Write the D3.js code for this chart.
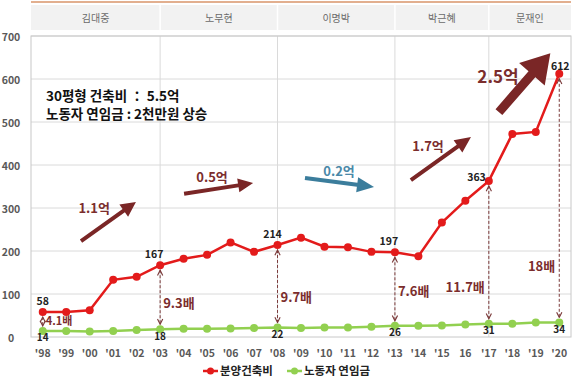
<!DOCTYPE html>
<html>
<head>
<meta charset="utf-8">
<script src="https://cdn.jsdelivr.net/npm/d3@7"></script>
<style>
  body { margin: 0; background: #fff; }
  svg { display: block; font-family: "Noto Sans CJK KR", "Noto Sans", sans-serif; }
</style>
</head>
<body>
<div id="chart"></div>
<script>
// data
var years = ["'98","'99","'00","'01","'02","'03","'04","'05","'06","'07","'08","'09","'10","'11","'12","'13","'14","'15","16","'17","'18","'19","'20"];
var buildCost = [58, 58, 62, 133, 140, 167, 182, 191, 220, 198, 214, 231, 210, 209, 198, 197, 188, 266, 317, 363, 472, 477, 612];
var wages = [14, 14, 13, 14, 16, 18, 19, 19, 20, 21, 22, 21, 22, 22, 24, 26, 26, 27, 29, 31, 31, 34, 34];
var seriesNames = ["분양건축비", "노동자 연임금"];
var yTicks = [0, 100, 200, 300, 400, 500, 600, 700];

var presidents = ["김대중", "노무현", "이명박", "박근혜", "문재인"];
var termBreaks = ["'03", "'08", "'13", "'17"];

// years with labelled values + ratio arrows
var markedYears = ["'98", "'03", "'08", "'13", "'17", "'20"];
var ratioLabels = ["4.1배", "9.3배", "9.7배", "7.6배", "11.7배", "18배"];
var ratioLabelAt = [37, 77, 91, 105, 116, 163];

// big arrows: text, tail (i, v), tip (i, v), label centre (i, v)
var trendText = ["1.1억", "0.5억", "0.2억", "1.7억", "2.5억"];
var trendFrom = [[1.63, 223], [6.02, 333], [11.17, 370], [15.68, 365], [19.43, 523]];
var trendTo = [[3.97, 314], [8.96, 358], [14.11, 349], [18.24, 465], [21.62, 660]];
var trendLabel = [[2.19, 298], [7.21, 372], [12.62, 386], [16.41, 444], [19.39, 605]];

var width = 578, height = 381;
var margin = { top: 36, right: 7, bottom: 44, left: 31 };

var svg = d3.select("#chart").append("svg")
    .attr("width", width)
    .attr("height", height);

var x = d3.scalePoint()
    .domain(years)
    .range([margin.left, width - margin.right])
    .padding(0.5);
var y = d3.scaleLinear()
    .domain([0, 700])
    .range([height - margin.bottom, margin.top]);

// fractional year index -> px
function xi(i) { return x(years[0]) + i * x.step(); }

var red = "#e31b1b", green = "#92d050", grey = "#595959";

// header band
svg.append("line")
    .attr("x1", margin.left).attr("x2", width - margin.right)
    .attr("y1", 2).attr("y2", 2)
    .attr("stroke", "#d9956a").attr("stroke-width", 1.5);
svg.append("rect")
    .attr("x", margin.left).attr("y", 5)
    .attr("width", width - margin.right - margin.left).attr("height", 25)
    .attr("fill", "#f2f2f2");
var edges = [margin.left].concat(termBreaks.map(d => x(d))).concat([width - margin.right]);
svg.append("g")
  .selectAll("line")
  .data(termBreaks)
  .join("line")
    .attr("x1", d => x(d)).attr("x2", d => x(d))
    .attr("y1", 5).attr("y2", 30)
    .attr("stroke", "#fff").attr("stroke-width", 1.5);
svg.append("g")
  .selectAll("text")
  .data(presidents)
  .join("text")
    .attr("x", (d, i) => (edges[i] + edges[i + 1]) / 2)
    .attr("y", 18)
    .attr("dy", "0.35em")
    .attr("text-anchor", "middle")
    .attr("font-size", 10)
    .attr("fill", "#6a6a6a")
    .text(d => d);

// grid
svg.append("g")
  .selectAll("line")
  .data(yTicks.slice(1))
  .join("line")
    .attr("x1", margin.left).attr("x2", width - margin.right)
    .attr("y1", d => y(d)).attr("y2", d => y(d))
    .attr("stroke", "#dadada");
svg.append("g")
  .selectAll("line")
  .data(termBreaks)
  .join("line")
    .attr("x1", d => x(d)).attr("x2", d => x(d))
    .attr("y1", y(700)).attr("y2", y(0))
    .attr("stroke", "#dadada");
svg.append("rect")
    .attr("x", margin.left).attr("y", y(700))
    .attr("width", width - margin.right - margin.left)
    .attr("height", y(0) - y(700))
    .attr("fill", "none").attr("stroke", "#c8c8c8");

// axes
svg.append("g")
  .selectAll("text")
  .data(yTicks)
  .join("text")
    .attr("x", 11)
    .attr("y", d => y(d) + 1)
    .attr("dy", "0.35em")
    .attr("text-anchor", "middle")
    .attr("font-size", 10.5)
    .attr("font-weight", "bold")
    .attr("fill", grey)
    .text(d => d);
svg.append("g")
  .selectAll("text")
  .data(years)
  .join("text")
    .attr("x", d => x(d))
    .attr("y", 353)
    .attr("dy", "0.35em")
    .attr("text-anchor", "middle")
    .attr("font-size", 10.5)
    .attr("font-weight", "bold")
    .attr("fill", grey)
    .text(d => d);

// arrow markers for the dashed ratio lines
var defs = svg.append("defs");
defs.append("marker")
    .attr("id", "chev")
    .attr("viewBox", "0 0 8 8")
    .attr("refX", 7).attr("refY", 4)
    .attr("markerWidth", 7).attr("markerHeight", 7)
    .attr("markerUnits", "userSpaceOnUse")
    .attr("orient", "auto-start-reverse")
  .append("path")
    .attr("d", "M1,1 L7,4 L1,7")
    .attr("fill", "none").attr("stroke", "#7b3a3a").attr("stroke-width", 1.3);

svg.append("g")
  .selectAll("line")
  .data(markedYears)
  .join("line")
    .attr("x1", d => x(d)).attr("x2", d => x(d))
    .attr("y1", d => y(buildCost[years.indexOf(d)]) + 5)
    .attr("y2", d => y(wages[years.indexOf(d)]) - 5)
    .attr("stroke", "#7b3a3a")
    .attr("stroke-width", 1)
    .attr("stroke-dasharray", "3,2")
    .attr("marker-start", "url(#chev)")
    .attr("marker-end", "url(#chev)");

// series lines
var line = d3.line().x((d, i) => x(years[i])).y(d => y(d));
svg.append("path").datum(wages)
    .attr("d", line).attr("fill", "none")
    .attr("stroke", green).attr("stroke-width", 2.5);
svg.append("g").selectAll("circle").data(wages).join("circle")
    .attr("cx", (d, i) => x(years[i])).attr("cy", d => y(d))
    .attr("r", 4).attr("fill", green);
svg.append("path").datum(buildCost)
    .attr("d", line).attr("fill", "none")
    .attr("stroke", red).attr("stroke-width", 2.5);
svg.append("g").selectAll("circle").data(buildCost).join("circle")
    .attr("cx", (d, i) => x(years[i])).attr("cy", d => y(d))
    .attr("r", 4).attr("fill", red);

// value labels
var redDx = [0, -6, -5, -6, -3, 1];
var redDy = [-7, -7, -7, -7, 0, -4];
svg.append("g")
  .selectAll("text")
  .data(markedYears)
  .join("text")
    .attr("x", (d, i) => x(d) + redDx[i])
    .attr("y", (d, i) => y(buildCost[years.indexOf(d)]) + redDy[i])
    .attr("text-anchor", (d, i) => i == 4 ? "end" : "middle")
    .attr("font-size", 10.5)
    .attr("font-weight", "bold")
    .attr("fill", "#222")
    .text(d => buildCost[years.indexOf(d)]);
svg.append("g")
  .selectAll("text")
  .data(markedYears)
  .join("text")
    .attr("x", d => x(d))
    .attr("y", d => y(wages[years.indexOf(d)]) + 7)
    .attr("dy", "0.35em")
    .attr("text-anchor", "middle")
    .attr("font-size", 10)
    .attr("font-weight", "bold")
    .attr("fill", "#222")
    .text(d => wages[years.indexOf(d)]);

// ratio labels
svg.append("g")
  .selectAll("text")
  .data(ratioLabels)
  .join("text")
    .attr("x", (d, i) => i >= 4 ? x(markedYears[i]) - 4 : x(markedYears[i]) + 3)
    .attr("y", (d, i) => y(ratioLabelAt[i]))
    .attr("dy", "0.35em")
    .attr("text-anchor", (d, i) => i >= 4 ? "end" : "start")
    .attr("font-size", (d, i) => i == 0 ? 11 : 13)
    .attr("font-weight", "bold")
    .attr("fill", "#7b2d2d")
    .text(d => d);

// trend arrows
function arrowPath(x1, y1, x2, y2, w, hw, hl) {
    var dx = x2 - x1, dy = y2 - y1, len = Math.sqrt(dx * dx + dy * dy);
    var ux = dx / len, uy = dy / len, nx = -uy, ny = ux;
    var bx = x2 - ux * hl, by = y2 - uy * hl;
    var pts = [
        [x1 + nx * w / 2, y1 + ny * w / 2],
        [bx + nx * w / 2, by + ny * w / 2],
        [bx + nx * hw / 2, by + ny * hw / 2],
        [x2, y2],
        [bx - nx * hw / 2, by - ny * hw / 2],
        [bx - nx * w / 2, by - ny * w / 2],
        [x1 - nx * w / 2, y1 - ny * w / 2]
    ];
    return "M" + pts.map(p => p.join(",")).join("L") + "Z";
}
var arrowSize = [[4, 15, 15], [4, 14, 15], [4, 15, 17], [4, 15, 16], [9, 34, 28]];
var arrowFill = ["#7a2626", "#7a2626", "#3b7d9c", "#7a2626", "#7a2626"];
var labelFill = ["#7b2d2d", "#7b2d2d", "#4a88a8", "#7b2d2d", "#7b2d2d"];
svg.append("g")
  .selectAll("path")
  .data(trendText)
  .join("path")
    .attr("d", (d, i) => arrowPath(
        xi(trendFrom[i][0]), y(trendFrom[i][1]),
        xi(trendTo[i][0]), y(trendTo[i][1]),
        arrowSize[i][0], arrowSize[i][1], arrowSize[i][2]))
    .attr("fill", (d, i) => arrowFill[i]);
svg.append("g")
  .selectAll("text")
  .data(trendText)
  .join("text")
    .attr("x", (d, i) => xi(trendLabel[i][0]))
    .attr("y", (d, i) => y(trendLabel[i][1]))
    .attr("dy", "0.35em")
    .attr("text-anchor", "middle")
    .attr("font-size", (d, i) => i == 4 ? 17 : 13)
    .attr("font-weight", "bold")
    .attr("fill", (d, i) => labelFill[i])
    .text(d => d);

// summary note
var note = svg.append("text")
    .attr("font-size", 13.5)
    .attr("font-weight", "bold")
    .attr("fill", "#111");
note.append("tspan").attr("x", xi(0.14)).attr("y", y(560)).attr("dy", "0.35em")
    .text("30평형 건축비 ： 5.5억");
note.append("tspan").attr("x", xi(0.14)).attr("y", y(518)).attr("dy", "0.35em")
    .text("노동자 연임금 : 2천만원 상승");

// legend
var legend = svg.append("g").attr("transform", "translate(203,371)");
var legendItems = legend.selectAll("g")
  .data(seriesNames)
  .join("g")
    .attr("transform", (d, i) => `translate(${i * 84},0)`);
legendItems.append("line")
    .attr("x1", 0).attr("x2", 15)
    .attr("stroke", (d, i) => i == 0 ? red : green).attr("stroke-width", 2.5);
legendItems.append("circle")
    .attr("cx", 7.5).attr("r", 3.5)
    .attr("fill", (d, i) => i == 0 ? red : green);
legendItems.append("text")
    .attr("x", 17)
    .attr("dy", "0.35em")
    .attr("font-size", 11.5)
    .attr("font-weight", "bold")
    .attr("fill", "#222")
    .text(d => d);
</script>
</body>
</html>
